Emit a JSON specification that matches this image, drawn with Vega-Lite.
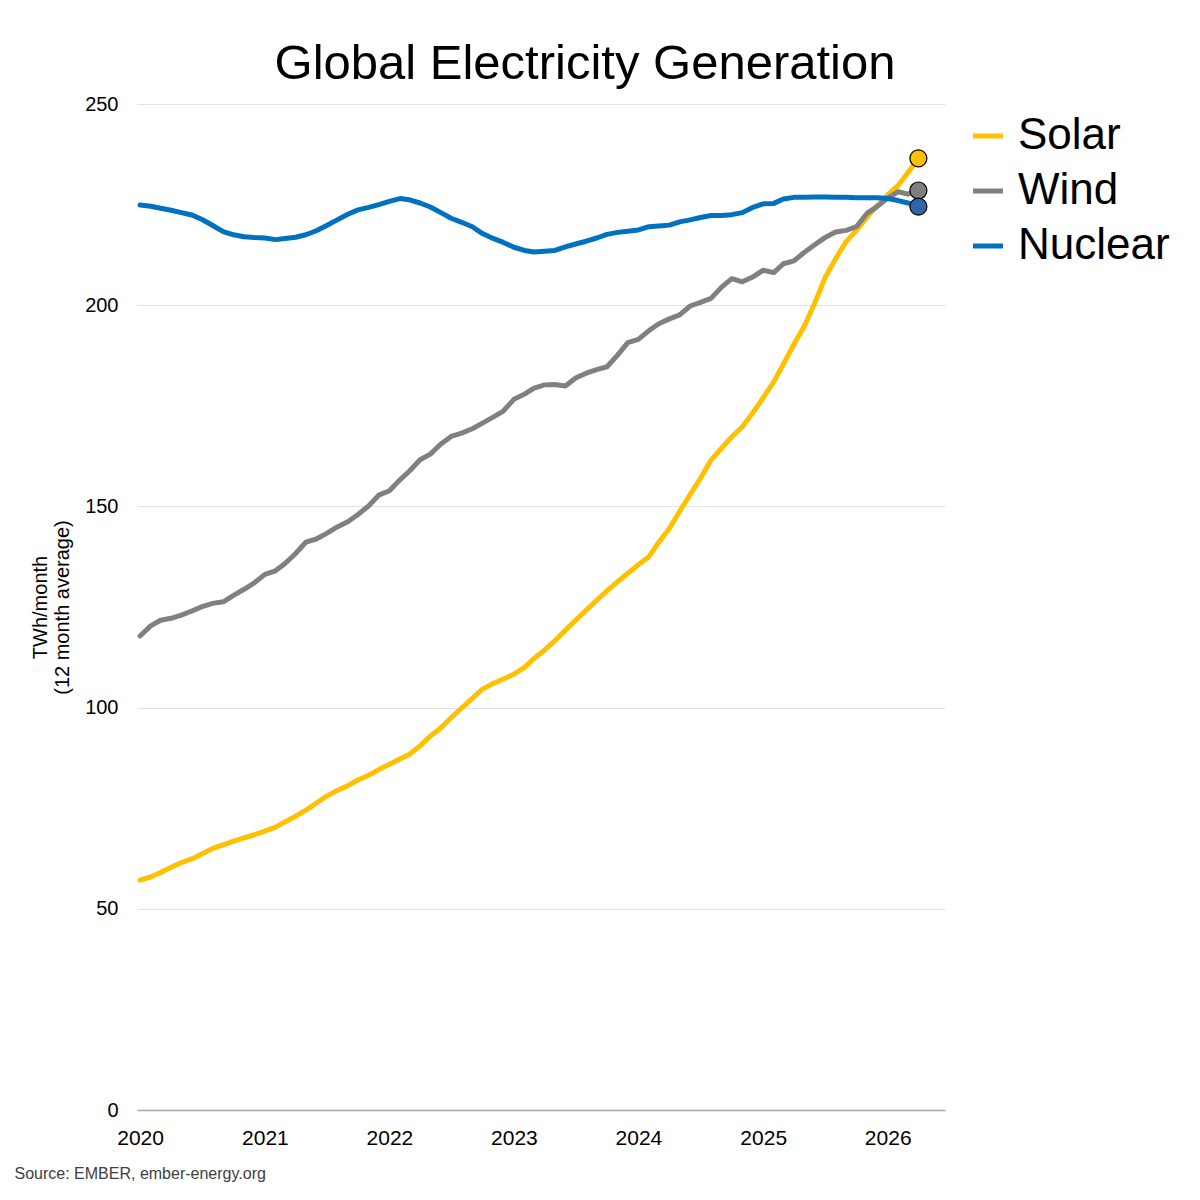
{
  "$schema": "https://vega.github.io/schema/vega-lite/v6.json",
  "description": "Global electricity generation from solar, wind and nuclear, 12 month average.",
  "autosize": "none",
  "width": 808,
  "height": 1006,
  "padding": {"left": 137, "top": 104, "right": 255, "bottom": 90},
  "background": "white",
  "title": {
    "text": "Global Electricity Generation",
    "anchor": "middle",
    "dx": 44,
    "dy": 58,
    "baseline": "alphabetic",
    "offset": 24,
    "fontSize": 49,
    "fontWeight": "normal",
    "font": "Liberation Sans",
    "color": "black"
  },
  "data": {
    "values": [
      {"date": "2020-01-01", "source": "Solar", "value": 57.1},
      {"date": "2020-02-01", "source": "Solar", "value": 57.9},
      {"date": "2020-03-01", "source": "Solar", "value": 59.0},
      {"date": "2020-04-01", "source": "Solar", "value": 60.3},
      {"date": "2020-05-01", "source": "Solar", "value": 61.5},
      {"date": "2020-06-01", "source": "Solar", "value": 62.4},
      {"date": "2020-07-01", "source": "Solar", "value": 63.7},
      {"date": "2020-08-01", "source": "Solar", "value": 65.0},
      {"date": "2020-09-01", "source": "Solar", "value": 65.9},
      {"date": "2020-10-01", "source": "Solar", "value": 66.8},
      {"date": "2020-11-01", "source": "Solar", "value": 67.6},
      {"date": "2020-12-01", "source": "Solar", "value": 68.4},
      {"date": "2021-01-01", "source": "Solar", "value": 69.3},
      {"date": "2021-02-01", "source": "Solar", "value": 70.3},
      {"date": "2021-03-01", "source": "Solar", "value": 71.6},
      {"date": "2021-04-01", "source": "Solar", "value": 73.0},
      {"date": "2021-05-01", "source": "Solar", "value": 74.5},
      {"date": "2021-06-01", "source": "Solar", "value": 76.3},
      {"date": "2021-07-01", "source": "Solar", "value": 78.0},
      {"date": "2021-08-01", "source": "Solar", "value": 79.4},
      {"date": "2021-09-01", "source": "Solar", "value": 80.6},
      {"date": "2021-10-01", "source": "Solar", "value": 82.0},
      {"date": "2021-11-01", "source": "Solar", "value": 83.2},
      {"date": "2021-12-01", "source": "Solar", "value": 84.6},
      {"date": "2022-01-01", "source": "Solar", "value": 85.9},
      {"date": "2022-02-01", "source": "Solar", "value": 87.2},
      {"date": "2022-03-01", "source": "Solar", "value": 88.4},
      {"date": "2022-04-01", "source": "Solar", "value": 90.5},
      {"date": "2022-05-01", "source": "Solar", "value": 92.9},
      {"date": "2022-06-01", "source": "Solar", "value": 95.0},
      {"date": "2022-07-01", "source": "Solar", "value": 97.5},
      {"date": "2022-08-01", "source": "Solar", "value": 99.9},
      {"date": "2022-09-01", "source": "Solar", "value": 102.3},
      {"date": "2022-10-01", "source": "Solar", "value": 104.6},
      {"date": "2022-11-01", "source": "Solar", "value": 106.0},
      {"date": "2022-12-01", "source": "Solar", "value": 107.1},
      {"date": "2023-01-01", "source": "Solar", "value": 108.3},
      {"date": "2023-02-01", "source": "Solar", "value": 110.0},
      {"date": "2023-03-01", "source": "Solar", "value": 112.2},
      {"date": "2023-04-01", "source": "Solar", "value": 114.3},
      {"date": "2023-05-01", "source": "Solar", "value": 116.6},
      {"date": "2023-06-01", "source": "Solar", "value": 119.2},
      {"date": "2023-07-01", "source": "Solar", "value": 121.7},
      {"date": "2023-08-01", "source": "Solar", "value": 124.2},
      {"date": "2023-09-01", "source": "Solar", "value": 126.7},
      {"date": "2023-10-01", "source": "Solar", "value": 129.0},
      {"date": "2023-11-01", "source": "Solar", "value": 131.3},
      {"date": "2023-12-01", "source": "Solar", "value": 133.4},
      {"date": "2024-01-01", "source": "Solar", "value": 135.5},
      {"date": "2024-02-01", "source": "Solar", "value": 137.5},
      {"date": "2024-03-01", "source": "Solar", "value": 141.1},
      {"date": "2024-04-01", "source": "Solar", "value": 144.5},
      {"date": "2024-05-01", "source": "Solar", "value": 148.8},
      {"date": "2024-06-01", "source": "Solar", "value": 153.0},
      {"date": "2024-07-01", "source": "Solar", "value": 157.0},
      {"date": "2024-08-01", "source": "Solar", "value": 161.5},
      {"date": "2024-09-01", "source": "Solar", "value": 164.5},
      {"date": "2024-10-01", "source": "Solar", "value": 167.3},
      {"date": "2024-11-01", "source": "Solar", "value": 169.8},
      {"date": "2024-12-01", "source": "Solar", "value": 173.2},
      {"date": "2025-01-01", "source": "Solar", "value": 177.0},
      {"date": "2025-02-01", "source": "Solar", "value": 181.0},
      {"date": "2025-03-01", "source": "Solar", "value": 185.3},
      {"date": "2025-04-01", "source": "Solar", "value": 190.3},
      {"date": "2025-05-01", "source": "Solar", "value": 194.7},
      {"date": "2025-06-01", "source": "Solar", "value": 200.5},
      {"date": "2025-07-01", "source": "Solar", "value": 206.8},
      {"date": "2025-08-01", "source": "Solar", "value": 211.5},
      {"date": "2025-09-01", "source": "Solar", "value": 215.8},
      {"date": "2025-10-01", "source": "Solar", "value": 218.5},
      {"date": "2025-11-01", "source": "Solar", "value": 221.8},
      {"date": "2025-12-01", "source": "Solar", "value": 224.8},
      {"date": "2026-01-01", "source": "Solar", "value": 227.4},
      {"date": "2026-02-01", "source": "Solar", "value": 229.8},
      {"date": "2026-03-01", "source": "Solar", "value": 232.9},
      {"date": "2026-04-01", "source": "Solar", "value": 236.5},
      {"date": "2020-01-01", "source": "Wind", "value": 117.8},
      {"date": "2020-02-01", "source": "Wind", "value": 120.3},
      {"date": "2020-03-01", "source": "Wind", "value": 121.7},
      {"date": "2020-04-01", "source": "Wind", "value": 122.2},
      {"date": "2020-05-01", "source": "Wind", "value": 123.0},
      {"date": "2020-06-01", "source": "Wind", "value": 124.0},
      {"date": "2020-07-01", "source": "Wind", "value": 125.1},
      {"date": "2020-08-01", "source": "Wind", "value": 125.9},
      {"date": "2020-09-01", "source": "Wind", "value": 126.3},
      {"date": "2020-10-01", "source": "Wind", "value": 127.9},
      {"date": "2020-11-01", "source": "Wind", "value": 129.4},
      {"date": "2020-12-01", "source": "Wind", "value": 131.0},
      {"date": "2021-01-01", "source": "Wind", "value": 133.1},
      {"date": "2021-02-01", "source": "Wind", "value": 134.0},
      {"date": "2021-03-01", "source": "Wind", "value": 135.8},
      {"date": "2021-04-01", "source": "Wind", "value": 138.3},
      {"date": "2021-05-01", "source": "Wind", "value": 141.1},
      {"date": "2021-06-01", "source": "Wind", "value": 141.9},
      {"date": "2021-07-01", "source": "Wind", "value": 143.3},
      {"date": "2021-08-01", "source": "Wind", "value": 144.9},
      {"date": "2021-09-01", "source": "Wind", "value": 146.2},
      {"date": "2021-10-01", "source": "Wind", "value": 148.0},
      {"date": "2021-11-01", "source": "Wind", "value": 150.1},
      {"date": "2021-12-01", "source": "Wind", "value": 152.8},
      {"date": "2022-01-01", "source": "Wind", "value": 153.9},
      {"date": "2022-02-01", "source": "Wind", "value": 156.6},
      {"date": "2022-03-01", "source": "Wind", "value": 158.8},
      {"date": "2022-04-01", "source": "Wind", "value": 161.6},
      {"date": "2022-05-01", "source": "Wind", "value": 163.0},
      {"date": "2022-06-01", "source": "Wind", "value": 165.5},
      {"date": "2022-07-01", "source": "Wind", "value": 167.4},
      {"date": "2022-08-01", "source": "Wind", "value": 168.2},
      {"date": "2022-09-01", "source": "Wind", "value": 169.3},
      {"date": "2022-10-01", "source": "Wind", "value": 170.7},
      {"date": "2022-11-01", "source": "Wind", "value": 172.2},
      {"date": "2022-12-01", "source": "Wind", "value": 173.7},
      {"date": "2023-01-01", "source": "Wind", "value": 176.6},
      {"date": "2023-02-01", "source": "Wind", "value": 177.9},
      {"date": "2023-03-01", "source": "Wind", "value": 179.4},
      {"date": "2023-04-01", "source": "Wind", "value": 180.2},
      {"date": "2023-05-01", "source": "Wind", "value": 180.3},
      {"date": "2023-06-01", "source": "Wind", "value": 179.9},
      {"date": "2023-07-01", "source": "Wind", "value": 181.9},
      {"date": "2023-08-01", "source": "Wind", "value": 183.1},
      {"date": "2023-09-01", "source": "Wind", "value": 184.0},
      {"date": "2023-10-01", "source": "Wind", "value": 184.7},
      {"date": "2023-11-01", "source": "Wind", "value": 187.6},
      {"date": "2023-12-01", "source": "Wind", "value": 190.7},
      {"date": "2024-01-01", "source": "Wind", "value": 191.5},
      {"date": "2024-02-01", "source": "Wind", "value": 193.7},
      {"date": "2024-03-01", "source": "Wind", "value": 195.4},
      {"date": "2024-04-01", "source": "Wind", "value": 196.6},
      {"date": "2024-05-01", "source": "Wind", "value": 197.6},
      {"date": "2024-06-01", "source": "Wind", "value": 199.8},
      {"date": "2024-07-01", "source": "Wind", "value": 200.7},
      {"date": "2024-08-01", "source": "Wind", "value": 201.7},
      {"date": "2024-09-01", "source": "Wind", "value": 204.5},
      {"date": "2024-10-01", "source": "Wind", "value": 206.6},
      {"date": "2024-11-01", "source": "Wind", "value": 205.8},
      {"date": "2024-12-01", "source": "Wind", "value": 207.0},
      {"date": "2025-01-01", "source": "Wind", "value": 208.7},
      {"date": "2025-02-01", "source": "Wind", "value": 208.1},
      {"date": "2025-03-01", "source": "Wind", "value": 210.3},
      {"date": "2025-04-01", "source": "Wind", "value": 211.0},
      {"date": "2025-05-01", "source": "Wind", "value": 213.1},
      {"date": "2025-06-01", "source": "Wind", "value": 215.0},
      {"date": "2025-07-01", "source": "Wind", "value": 216.8},
      {"date": "2025-08-01", "source": "Wind", "value": 218.2},
      {"date": "2025-09-01", "source": "Wind", "value": 218.6},
      {"date": "2025-10-01", "source": "Wind", "value": 219.5},
      {"date": "2025-11-01", "source": "Wind", "value": 222.8},
      {"date": "2025-12-01", "source": "Wind", "value": 224.5},
      {"date": "2026-01-01", "source": "Wind", "value": 226.6},
      {"date": "2026-02-01", "source": "Wind", "value": 228.2},
      {"date": "2026-03-01", "source": "Wind", "value": 227.6},
      {"date": "2026-04-01", "source": "Wind", "value": 228.5},
      {"date": "2020-01-01", "source": "Nuclear", "value": 224.9},
      {"date": "2020-02-01", "source": "Nuclear", "value": 224.6},
      {"date": "2020-03-01", "source": "Nuclear", "value": 224.1},
      {"date": "2020-04-01", "source": "Nuclear", "value": 223.6},
      {"date": "2020-05-01", "source": "Nuclear", "value": 223.0},
      {"date": "2020-06-01", "source": "Nuclear", "value": 222.4},
      {"date": "2020-07-01", "source": "Nuclear", "value": 221.3},
      {"date": "2020-08-01", "source": "Nuclear", "value": 219.8},
      {"date": "2020-09-01", "source": "Nuclear", "value": 218.3},
      {"date": "2020-10-01", "source": "Nuclear", "value": 217.5},
      {"date": "2020-11-01", "source": "Nuclear", "value": 217.0},
      {"date": "2020-12-01", "source": "Nuclear", "value": 216.8},
      {"date": "2021-01-01", "source": "Nuclear", "value": 216.7},
      {"date": "2021-02-01", "source": "Nuclear", "value": 216.3},
      {"date": "2021-03-01", "source": "Nuclear", "value": 216.6},
      {"date": "2021-04-01", "source": "Nuclear", "value": 216.9},
      {"date": "2021-05-01", "source": "Nuclear", "value": 217.5},
      {"date": "2021-06-01", "source": "Nuclear", "value": 218.5},
      {"date": "2021-07-01", "source": "Nuclear", "value": 219.8},
      {"date": "2021-08-01", "source": "Nuclear", "value": 221.2},
      {"date": "2021-09-01", "source": "Nuclear", "value": 222.6},
      {"date": "2021-10-01", "source": "Nuclear", "value": 223.7},
      {"date": "2021-11-01", "source": "Nuclear", "value": 224.3},
      {"date": "2021-12-01", "source": "Nuclear", "value": 225.0},
      {"date": "2022-01-01", "source": "Nuclear", "value": 225.8},
      {"date": "2022-02-01", "source": "Nuclear", "value": 226.5},
      {"date": "2022-03-01", "source": "Nuclear", "value": 226.2},
      {"date": "2022-04-01", "source": "Nuclear", "value": 225.4},
      {"date": "2022-05-01", "source": "Nuclear", "value": 224.4},
      {"date": "2022-06-01", "source": "Nuclear", "value": 223.0},
      {"date": "2022-07-01", "source": "Nuclear", "value": 221.6},
      {"date": "2022-08-01", "source": "Nuclear", "value": 220.6},
      {"date": "2022-09-01", "source": "Nuclear", "value": 219.5},
      {"date": "2022-10-01", "source": "Nuclear", "value": 217.8},
      {"date": "2022-11-01", "source": "Nuclear", "value": 216.6},
      {"date": "2022-12-01", "source": "Nuclear", "value": 215.6},
      {"date": "2023-01-01", "source": "Nuclear", "value": 214.4},
      {"date": "2023-02-01", "source": "Nuclear", "value": 213.6},
      {"date": "2023-03-01", "source": "Nuclear", "value": 213.2},
      {"date": "2023-04-01", "source": "Nuclear", "value": 213.4},
      {"date": "2023-05-01", "source": "Nuclear", "value": 213.6},
      {"date": "2023-06-01", "source": "Nuclear", "value": 214.5},
      {"date": "2023-07-01", "source": "Nuclear", "value": 215.2},
      {"date": "2023-08-01", "source": "Nuclear", "value": 215.9},
      {"date": "2023-09-01", "source": "Nuclear", "value": 216.7},
      {"date": "2023-10-01", "source": "Nuclear", "value": 217.6},
      {"date": "2023-11-01", "source": "Nuclear", "value": 218.1},
      {"date": "2023-12-01", "source": "Nuclear", "value": 218.4},
      {"date": "2024-01-01", "source": "Nuclear", "value": 218.7},
      {"date": "2024-02-01", "source": "Nuclear", "value": 219.5},
      {"date": "2024-03-01", "source": "Nuclear", "value": 219.7},
      {"date": "2024-04-01", "source": "Nuclear", "value": 219.9},
      {"date": "2024-05-01", "source": "Nuclear", "value": 220.7},
      {"date": "2024-06-01", "source": "Nuclear", "value": 221.2},
      {"date": "2024-07-01", "source": "Nuclear", "value": 221.8},
      {"date": "2024-08-01", "source": "Nuclear", "value": 222.3},
      {"date": "2024-09-01", "source": "Nuclear", "value": 222.3},
      {"date": "2024-10-01", "source": "Nuclear", "value": 222.5},
      {"date": "2024-11-01", "source": "Nuclear", "value": 223.0},
      {"date": "2024-12-01", "source": "Nuclear", "value": 224.3},
      {"date": "2025-01-01", "source": "Nuclear", "value": 225.2},
      {"date": "2025-02-01", "source": "Nuclear", "value": 225.3},
      {"date": "2025-03-01", "source": "Nuclear", "value": 226.4},
      {"date": "2025-04-01", "source": "Nuclear", "value": 226.8},
      {"date": "2025-05-01", "source": "Nuclear", "value": 226.8},
      {"date": "2025-06-01", "source": "Nuclear", "value": 226.9},
      {"date": "2025-07-01", "source": "Nuclear", "value": 226.9},
      {"date": "2025-08-01", "source": "Nuclear", "value": 226.8},
      {"date": "2025-09-01", "source": "Nuclear", "value": 226.8},
      {"date": "2025-10-01", "source": "Nuclear", "value": 226.7},
      {"date": "2025-11-01", "source": "Nuclear", "value": 226.7},
      {"date": "2025-12-01", "source": "Nuclear", "value": 226.7},
      {"date": "2026-01-01", "source": "Nuclear", "value": 226.5},
      {"date": "2026-02-01", "source": "Nuclear", "value": 226.0},
      {"date": "2026-03-01", "source": "Nuclear", "value": 225.4},
      {"date": "2026-04-01", "source": "Nuclear", "value": 224.5}
    ]
  },
  "encoding": {
    "x": {
      "field": "date",
      "type": "temporal",
      "scale": {
        "type": "utc",
        "domain": [
          {"year": 2019, "month": 12, "date": 23, "utc": true},
          {"year": 2026, "month": 6, "date": 18, "utc": true}
        ]
      },
      "axis": {
        "title": "Source: EMBER, ember-energy.org",
        "titleAnchor": "start",
        "titleAlign": "left",
        "titleBaseline": "alphabetic",
        "titleX": -123,
        "titleY": 68,
        "titleFontSize": 16,
        "titleFontWeight": "normal",
        "titleColor": "#404040",
        "values": [
          {"year": 2020, "utc": true},
          {"year": 2021, "utc": true},
          {"year": 2022, "utc": true},
          {"year": 2023, "utc": true},
          {"year": 2024, "utc": true},
          {"year": 2025, "utc": true},
          {"year": 2026, "utc": true}
        ],
        "format": "%Y",
        "labelFontSize": 21,
        "labelPadding": 17,
        "labelColor": "black",
        "labelFlush": false,
        "ticks": false,
        "grid": false,
        "domainColor": "#a6a6a6",
        "domainWidth": 1.5
      }
    },
    "y": {
      "field": "value",
      "type": "quantitative",
      "scale": {"domain": [0, 250]},
      "axis": {
        "title": ["TWh/month", "(12 month average)"],
        "titleFontSize": 20,
        "titleFontWeight": "normal",
        "titleColor": "black",
        "titleAngle": -90,
        "titleX": -91,
        "titleY": 503,
        "titleBaseline": "alphabetic",
        "titleAlign": "center",
        "titleLineHeight": 22,
        "values": [0, 50, 100, 150, 200, 250],
        "labelFontSize": 20,
        "labelPadding": 19,
        "labelColor": "black",
        "ticks": false,
        "domain": false,
        "gridColor": "#e2e2e2",
        "gridWidth": 1
      }
    }
  },
  "layer": [
    {
      "mark": {"type": "line", "strokeWidth": 5, "strokeCap": "round", "strokeJoin": "round"},
      "encoding": {
        "color": {
          "field": "source",
          "type": "nominal",
          "scale": {
            "domain": ["Solar", "Wind", "Nuclear"],
            "range": ["#FFC000", "#808080", "#0070C0"]
          },
          "legend": {
            "title": null,
            "orient": "none",
            "legendX": 829,
            "legendY": 10,
            "symbolType": "stroke",
            "symbolSize": 900,
            "symbolStrokeWidth": 5,
            "labelFontSize": 44,
            "labelOffset": 8,
            "labelColor": "black",
            "rowPadding": 11
          }
        }
      }
    },
    {
      "transform": [{"filter": "utcyear(datum.date) == 2026 && utcmonth(datum.date) == 3"}],
      "mark": {"type": "point", "filled": true, "size": 290, "stroke": "black", "strokeWidth": 1.2, "opacity": 1},
      "encoding": {
        "fill": {
          "field": "source",
          "type": "nominal",
          "scale": {
            "domain": ["Solar", "Wind", "Nuclear"],
            "range": ["#FFC000", "#7f7f7f", "#2E66A8"]
          },
          "legend": null
        }
      }
    }
  ],
  "config": {
    "font": "Liberation Sans",
    "view": {"stroke": null}
  }
}
